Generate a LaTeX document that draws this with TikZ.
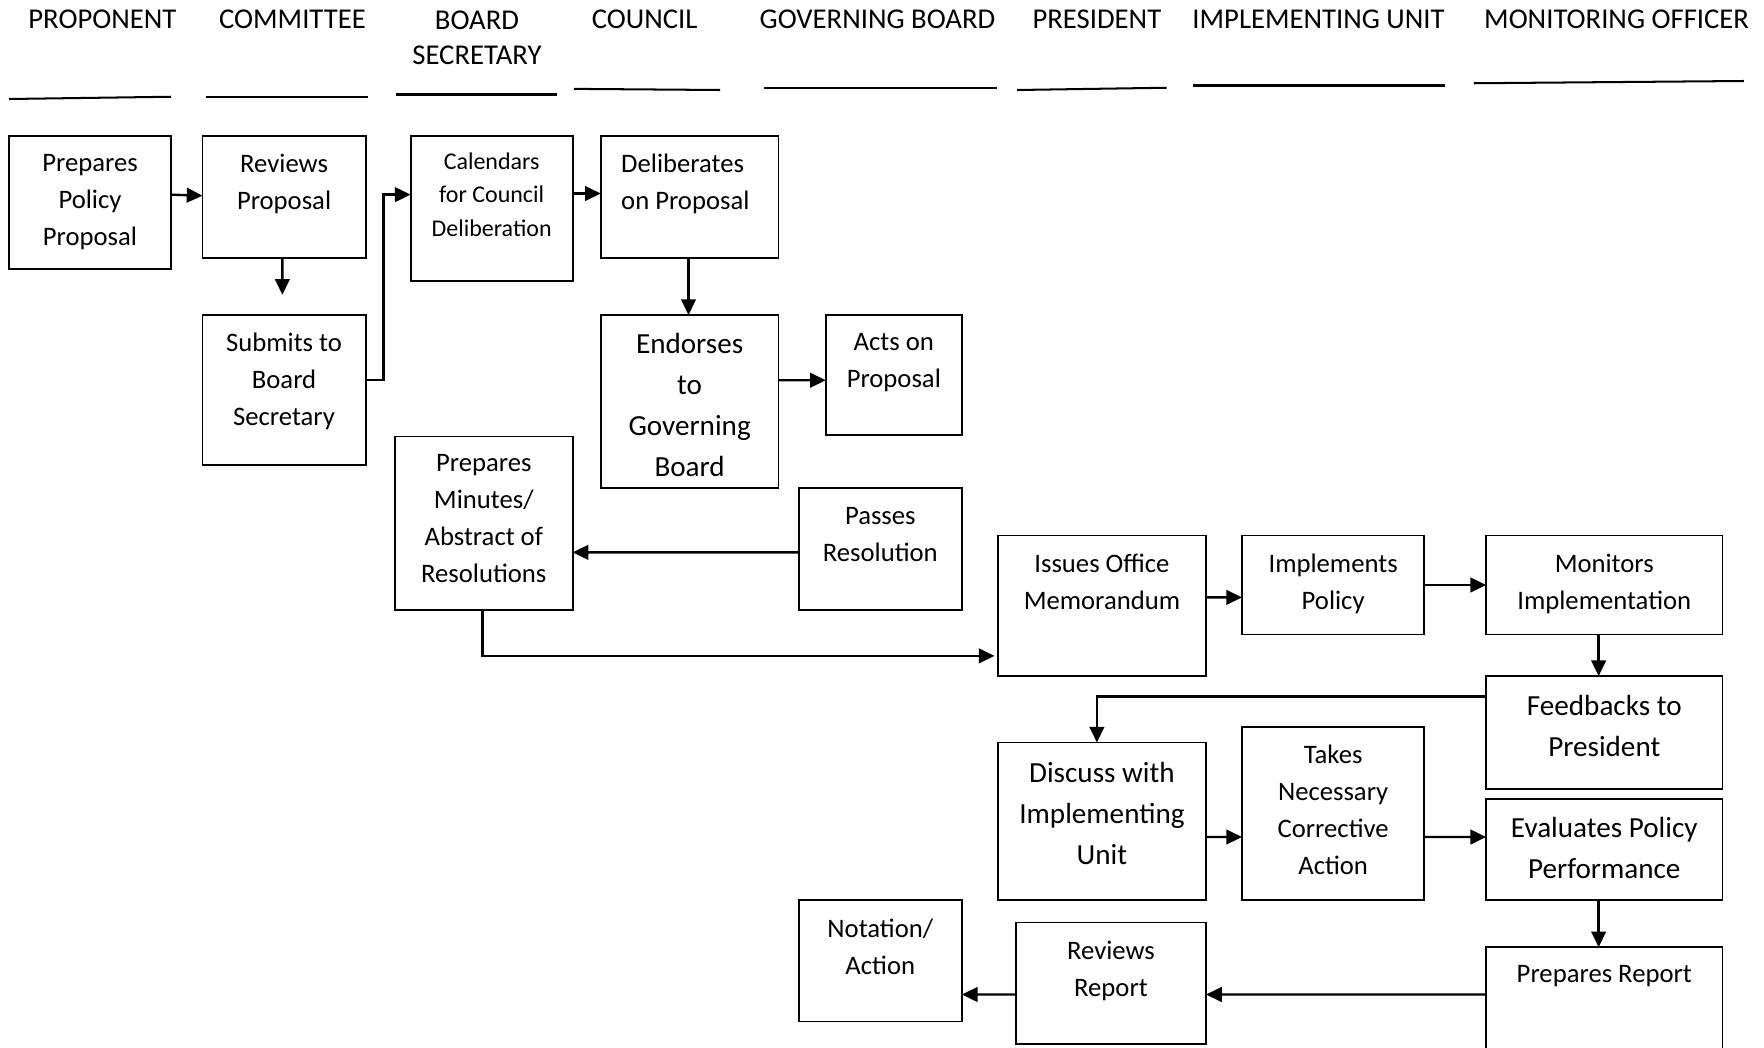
\documentclass[tikz,border=0pt]{standalone}
\usepackage{fontspec}
\setmainfont{Carlito}
\usetikzlibrary{arrows.meta,positioning}

\begin{document}
\begin{tikzpicture}[x=1bp,y=-1bp,
  box/.style={draw, line width=1.6bp, anchor=north west, inner sep=0pt, outer sep=0pt},
  fa/.style={font=\fontsize{23.8}{33}\selectfont},
  fb/.style={font=\fontsize{21.4}{30}\selectfont},
  fc/.style={font=\fontsize{26}{36.6}\selectfont},
  txt/.style={inner sep=0pt, align=center, execute at begin node=\strut},
  head/.style={inner sep=0pt, align=center, anchor=north,
    font=\fontsize{25.6}{31}\selectfont, execute at begin node=\strut},
  lane/.style={line width=1.8bp},
  arr/.style={line width=2.1bp, -{Triangle[length=14bp,width=13bp]}},
]
\useasboundingbox (0,0) rectangle (1568,931);

% column headings
\node[head] (h1) at (91,3.5)   {PROPONENT};
\node[head] (h2) at (260,3.5)  {COMMITTEE};
\node[head] (h3) at (424,9.5)  {BOARD\\SECRETARY};
\node[head] (h4) at (573,3.5)  {COUNCIL};
\node[head] (h5) at (780,3.5)  {GOVERNING BOARD};
\node[head] (h6) at (975,3.5)  {PRESIDENT};
\node[head] (h7) at (1172,3.5) {IMPLEMENTING UNIT};
\node[head] (h8) at (1437,3.5) {MONITORING OFFICER};

% heading rules
\draw[lane] (8,88) -- (152,86);
\draw[lane] (183,86) -- (327,86);
\draw[lane] (352,84) -- (495,84);
\draw[lane] (510,79) -- (640,80);
\draw[lane] (679,78) -- (886,78);
\draw[lane] (904,80) -- (1037,78);
\draw[lane] (1060,76) -- (1284,76);
\draw[lane] (1310,74) -- (1550,72);

% process boxes
\node[box, minimum width=144bp, minimum height=118bp] (b1)  at (8,121)    {};
\node[box, minimum width=145bp, minimum height=108bp] (b2)  at (180,121)  {};
\node[box, minimum width=145bp, minimum height=133bp] (b3)  at (180,280)  {};
\node[box, minimum width=144bp, minimum height=129bp] (b4)  at (365,121)  {};
\node[box, minimum width=158bp, minimum height=108bp] (b5)  at (534,121)  {};
\node[box, minimum width=158bp, minimum height=154bp] (b6)  at (534,280)  {};
\node[box, minimum width=121bp, minimum height=107bp] (b7)  at (734,280)  {};
\node[box, minimum width=158bp, minimum height=154bp] (b8)  at (351,388)  {};
\node[box, minimum width=145bp, minimum height=108bp] (b9)  at (710,434)  {};
\node[box, minimum width=185bp, minimum height=125bp] (b10) at (887,476)  {};
\node[box, minimum width=162bp, minimum height=88bp]  (b11) at (1104,476) {};
\node[box, minimum width=210bp, minimum height=88bp]  (b12) at (1321,476) {};
\node[box, minimum width=210bp, minimum height=100bp] (b13) at (1321,601) {};
\node[box, minimum width=185bp, minimum height=140bp] (b14) at (887,660)  {};
\node[box, minimum width=162bp, minimum height=154bp] (b15) at (1104,646) {};
\node[box, minimum width=210bp, minimum height=90bp]  (b16) at (1321,710) {};
\node[box, minimum width=210bp, minimum height=98bp]  (b17) at (1321,842) {};
\node[box, minimum width=169bp, minimum height=108bp] (b18) at (903,820)  {};
\node[box, minimum width=145bp, minimum height=108bp] (b19) at (710,800)  {};

% box texts
\node[txt, fa, below=16bp of b1.north]  (t1)  {Prepares\\Policy\\Proposal};
\node[txt, fa, below=16bp of b2.north]  (t2)  {Reviews\\Proposal};
\node[txt, fa, below=16bp of b3.north]  (t3)  {Submits to\\Board\\Secretary};
\node[txt, fb, below=14.5bp of b4.north] (t4) {Calendars\\for Council\\Deliberation};
\node[txt, fa, align=left, below right=16bp and 18bp of b5.north west] (t5) {Deliberates\\on Proposal};
\node[txt, fc, below=16bp of b6.north]  (t6)  {Endorses\\to\\Governing\\Board};
\node[txt, fa, below=16bp of b7.north]  (t7)  {Acts on\\Proposal};
\node[txt, fa, below=16bp of b8.north]  (t8)  {Prepares\\Minutes/\\Abstract of\\Resolutions};
\node[txt, fa, below=17bp of b9.north]  (t9)  {Passes\\Resolution};
\node[txt, fa, below=16bp of b10.north] (t10) {Issues Office\\Memorandum};
\node[txt, fa, below=16bp of b11.north] (t11) {Implements\\Policy};
\node[txt, fa, below=16bp of b12.north] (t12) {Monitors\\Implementation};
\node[txt, fc, below=17bp of b13.north] (t13) {Feedbacks to\\President};
\node[txt, fc, below=17bp of b14.north] (t14) {Discuss with\\Implementing\\Unit};
\node[txt, fa, below=16bp of b15.north] (t15) {Takes\\Necessary\\Corrective\\Action};
\node[txt, fc, below=16bp of b16.north] (t16) {Evaluates Policy\\Performance};
\node[txt, fa, below=8bp of b17.north]  (t17) {Prepares Report};
\node[txt, fa, below=16bp of b18.north] (t18) {Reviews\\Report};
\node[txt, fa, below=17bp of b19.north] (t19) {Notation/\\Action};

% connectors
\coordinate (c2) at (251,262);
\draw[arr] ([yshift=7bp]b1.east) -- ([yshift=1bp]b2.west);
\draw[arr] ([xshift=-1.5bp]b2.south) -- (c2);
\draw[arr] ([yshift=8.5bp]b3.east) -- ++(16,0) |- ([yshift=12.5bp]b4.west);
\draw[arr] ([yshift=13.5bp]b4.east) -- ([yshift=3bp]b5.west);
\draw[arr] ([xshift=-1bp]b5.south) -- ([xshift=-1bp]b6.north);
\draw[arr] ([yshift=19bp]b6.east) -- ([yshift=-4.5bp]b7.west);
\draw[arr] ([yshift=-3bp]b9.west) -- ([yshift=-26bp]b8.east);
\draw[arr] ([xshift=-1bp]b8.south) |- ([xshift=-3bp,yshift=-44.5bp]b10.west);
\draw[arr] ([yshift=7.5bp]b10.east) -- ([yshift=-11bp]b11.west);
\draw[arr] (b11.east) -- (b12.west);
\draw[arr] ([xshift=-5bp]b12.south) -- ([xshift=-5bp]b13.north);
\draw[arr] ([yshift=32bp]b13.west) -| ([xshift=-4.5bp]b14.north);
\draw[arr] ([yshift=-14bp]b14.east) -- ([yshift=-21bp]b15.west);
\draw[arr] ([yshift=-21bp]b15.east) -- ([yshift=11bp]b16.west);
\draw[arr] ([xshift=-5bp]b16.south) -- ([xshift=-5bp]b17.north);
\draw[arr] ([yshift=7bp]b17.west) -- ([yshift=-10bp]b18.east);
\draw[arr] ([yshift=-10bp]b18.west) -- ([yshift=-30bp]b19.east);
\end{tikzpicture}
\end{document}
